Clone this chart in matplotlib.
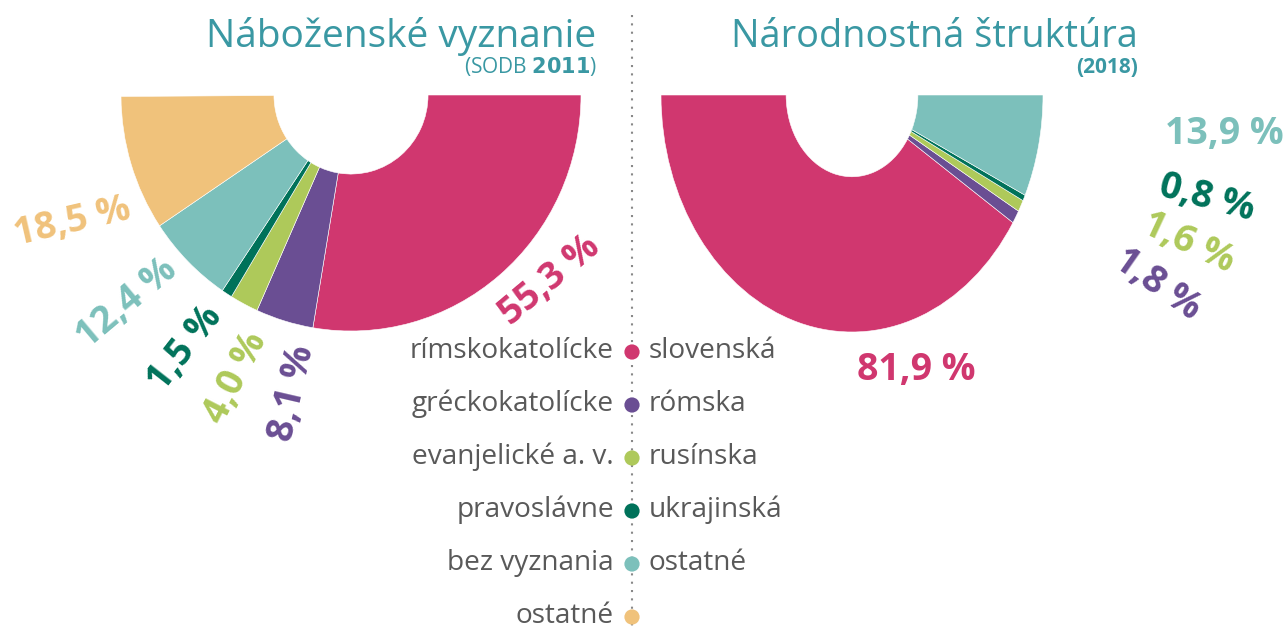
import numpy as np
import matplotlib
matplotlib.use('Agg')
import matplotlib.pyplot as plt

plt.rcParams['font.family'] = ['Open Sans', 'DejaVu Sans']

# --- data ---
rel_labels = ['rímskokatolícke', 'gréckokatolícke', 'evanjelické a. v.',
              'pravoslávne', 'bez vyznania', 'ostatné']
rel_values = [55.3, 8.1, 4.0, 1.5, 12.4, 18.5]
nat_labels = ['slovenská', 'rómska', 'rusínska', 'ukrajinská', 'ostatné']
nat_values = [81.9, 1.8, 1.6, 0.8, 13.9]

colors = ['#d0376f', '#6a4e93', '#aec95a', '#00725a', '#7cc0bb', '#f0c27b']
teal_title = '#3a98a3'
grey = '#595959'

W, H = 1288, 629
fig = plt.figure(figsize=(W / 100, H / 100), dpi=100)


def donut_axes(cx, cy, rx, ry):
    # axes box in pixels -> figure fraction, lower half of an ellipse
    ax = fig.add_axes([(cx - rx * 1.02) / W, (H - cy - ry * 1.02) / H,
                       2 * rx * 1.02 / W, ry * 1.02 / H])
    return ax


# lavý polkruh
axl = donut_axes(351, 95, 230, 236)
axl.pie(np.array(rel_values) / 200, normalize=False, colors=colors,
        startangle=0, counterclock=False, radius=1,
        wedgeprops=dict(width=0.665, edgecolor='white', linewidth=0.4))
axl.set_aspect('auto')
axl.set_xlim(-1.02, 1.02)
axl.set_ylim(-1.02, 0)
axl.axis('off')

# pravý polkruh
axr = donut_axes(852, 95, 191, 237)
axr.pie(np.array(nat_values) / 200, normalize=False, colors=colors[:5],
        startangle=180, counterclock=True, radius=1,
        wedgeprops=dict(width=0.655, edgecolor='white', linewidth=0.4))
axr.set_aspect('auto')
axr.set_xlim(-1.02, 1.02)
axr.set_ylim(-1.02, 0)
axr.axis('off')

# overlay v pixeloch
ov = fig.add_axes([0, 0, 1, 1], facecolor='none')
ov.set_xlim(0, W)
ov.set_ylim(H, 0)
ov.axis('off')

# titulky
ov.text(596, 47, 'Náboženské vyznanie', ha='right', va='baseline',
        fontsize=28, color=teal_title)
ov.text(597, 73, '(SODB $\\bf{2011}$)', ha='right', va='baseline',
        fontsize=15, color=teal_title)
ov.text(1138, 47, 'Národnostná štruktúra', ha='right', va='baseline',
        fontsize=27.3, color=teal_title)
ov.text(1138, 73, '(2018)', ha='right', va='baseline',
        fontsize=15, color=teal_title, fontweight='bold')

# bodkovaná deliaca čiara
ov.plot([632, 632], [15, H], color='#888888', lw=1.5,
        linestyle=(0, (1, 3)), zorder=1)

# legenda
row_y = [352, 405, 458, 511, 564, 617]
for i, lab in enumerate(rel_labels):
    ov.text(614, row_y[i] - 1, lab, ha='right', va='center', fontsize=20.2,
            color=grey)
for i, lab in enumerate(nat_labels):
    ov.text(649, row_y[i] - 1, lab, ha='left', va='center', fontsize=20.2,
            color=grey)
ov.scatter([632] * len(rel_labels), row_y, s=120, c=colors, zorder=3,
           edgecolors='none')

# percentá
def fmt(v):
    return f'{v:.1f}'.replace('.', ',') + ' %'

rel_pos = [(550, 280, 40), (292, 393, 77), (236, 378, 63),
           (185, 348, 52), (127, 303, 40), (72, 222, 13)]
for v, c, (x, y, r) in zip(rel_values, colors, rel_pos):
    ov.text(x, y, fmt(v), ha='center', va='center', rotation=r,
            rotation_mode='anchor', fontsize=27, fontweight='bold', color=c)

nat_pos = [(916, 370, 0), (1157, 285, -35), (1188, 243, -25),
           (1207, 198, -15), (1224, 134, 0)]
for v, c, (x, y, r) in zip(nat_values, colors, nat_pos):
    ov.text(x, y, fmt(v), ha='center', va='center', rotation=r,
            rotation_mode='anchor', fontsize=27, fontweight='bold', color=c)

fig.savefig('out.png', dpi=100)
